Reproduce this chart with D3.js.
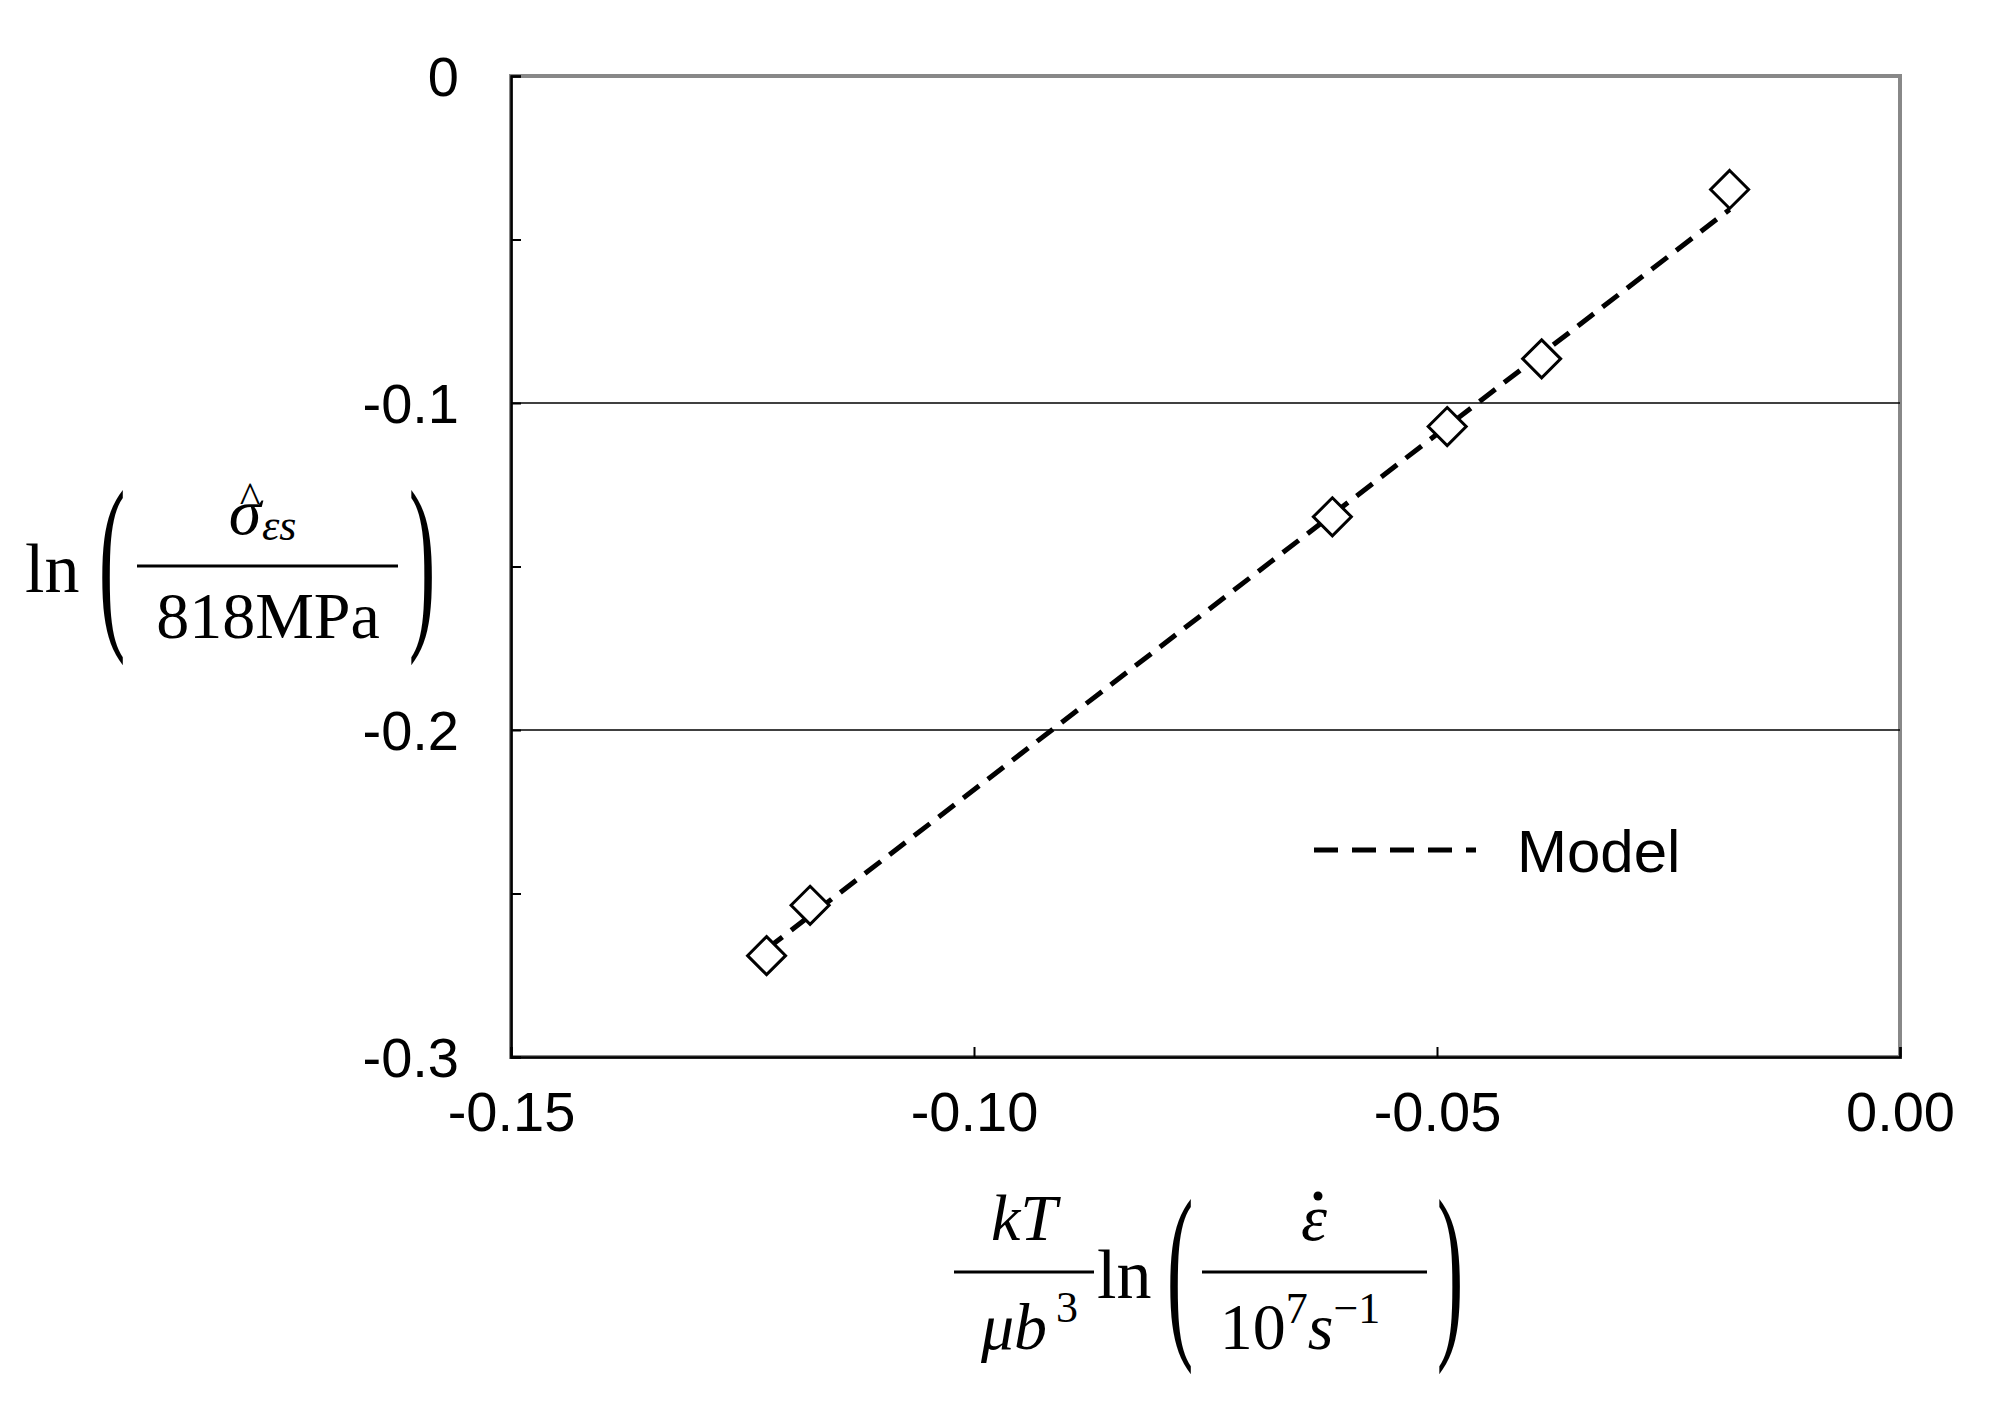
<!DOCTYPE html>
<html><head><meta charset="utf-8">
<script src="https://cdn.jsdelivr.net/npm/d3@7"></script>
<style>body{margin:0;background:#fff}text{fill:#000}</style>
</head><body>
<script>
// measured points
var xData = [-0.1224, -0.1177, -0.0613, -0.0489, -0.0387, -0.0184];
var yData = [-0.269, -0.2536, -0.1348, -0.1072, -0.0865, -0.0347];
// model line end points
var modelX = [-0.1224, -0.0184];
var modelY = [-0.267, -0.0408];
var xTicks = [-0.15, -0.10, -0.05, 0.00];
var yTicks = [0, -0.1, -0.2, -0.3];
var yMinor = [-0.05, -0.15, -0.25];
var gridY = [-0.1, -0.2];

var W = 1995, H = 1414;
var m = {left:511, right:1900, top:76, bottom:1057};
var svg = d3.select("body").append("svg").attr("width",W).attr("height",H);
var x = d3.scaleLinear().domain([-0.15,0]).range([m.left,m.right]);
var y = d3.scaleLinear().domain([-0.3,0]).range([m.bottom,m.top]);
var font = "'Liberation Sans', Arial, sans-serif";

// frame
svg.append("rect").attr("x",m.left).attr("y",m.top).attr("width",m.right-m.left).attr("height",m.bottom-m.top)
  .attr("fill","none").attr("stroke","#888").attr("stroke-width",4);
svg.selectAll(".grid").data(gridY).enter().append("line")
  .attr("x1",m.left).attr("x2",m.right).attr("y1",d=>y(d)).attr("y2",d=>y(d))
  .attr("stroke","#000").attr("stroke-width",1.5);

var xAxis = svg.append("g").attr("transform","translate(0,"+m.bottom+")")
  .call(d3.axisBottom(x).tickValues(xTicks).tickSize(-10).tickPadding(24)
    .tickFormat(d => d3.format(".2f")(d).replace("−","-")));
var yAxis = svg.append("g").attr("transform","translate("+m.left+",0)")
  .call(d3.axisLeft(y).tickValues(yTicks.concat(yMinor)).tickSize(-10).tickPadding(52)
    .tickFormat(d => yMinor.indexOf(d) >= 0 ? "" : (d === 0 ? "0" : d3.format(".1f")(d).replace("−","-"))));
[xAxis, yAxis].forEach(function(g){
  g.select(".domain").attr("stroke","#000").attr("stroke-width",2.5);
  g.selectAll(".tick line").attr("stroke","#000").attr("stroke-width",2);
  g.selectAll("text").attr("font-family",font).attr("font-size",56).attr("fill","#000");
});
xAxis.selectAll("text").attr("dy","0.9em");
yAxis.selectAll("text").attr("dy","0.35em");

// model line
var line = d3.line().x(d=>x(d[0])).y(d=>y(d[1]));
svg.append("path").datum(d3.zip(modelX, modelY)).attr("d",line)
  .attr("fill","none").attr("stroke","#000").attr("stroke-width",5).attr("stroke-dasharray","20,11");

// markers
svg.selectAll(".pt").data(d3.zip(xData,yData)).enter().append("path")
  .attr("transform",d=>"translate("+x(d[0])+","+y(d[1])+")")
  .attr("d","M0,-19L19,0L0,19L-19,0Z").attr("fill","#fff").attr("stroke","#000").attr("stroke-width",3);

// legend
svg.append("line").attr("x1",1314).attr("x2",1476).attr("y1",850).attr("y2",850)
  .attr("stroke","#000").attr("stroke-width",5).attr("stroke-dasharray","24,14");
svg.append("text").attr("x",1517).attr("y",872).attr("font-family",font).attr("font-size",60).text("Model");

// math labels
var serif = "'Liberation Serif', 'DejaVu Serif', serif";
function t(xp, yp, s, size, italic, anchor){
  return svg.append("text").attr("x",xp).attr("y",yp).attr("font-family",serif).attr("font-size",size)
    .attr("font-style",italic?"italic":"normal").attr("text-anchor",anchor||"start").text(s);
}
function paren(xp, yc, s){
  svg.append("text").attr("transform","translate("+xp+","+yc+") scale(1,2.4)")
    .attr("font-family",serif).attr("font-size",80).attr("dy","0.3em").attr("text-anchor","middle").text(s);
}
function bar(x1,x2,yy){
  svg.append("line").attr("x1",x1).attr("x2",x2).attr("y1",yy).attr("y2",yy).attr("stroke","#000").attr("stroke-width",3);
}
// y title
t(25,592,"ln",70,false);
paren(112,566,"(");
var num = t(245,534,"σ",66,true,"middle");
t(250,512,"^",44,false,"middle");
t(262,540,"εs",44,true,"start");
bar(137,398,566);
t(268,638,"818MPa",66,false,"middle");
paren(422,566,")");
// x title
t(1024,1240,"kT",66,true,"middle");
bar(954,1094,1272);
var mb = t(1014,1349,"μb",66,true,"middle");
t(1056,1322,"3",44,false,"start");
t(1097,1298,"ln",70,false);
paren(1180,1275,"(");
t(1314,1240,"ε",66,true,"middle");
svg.append("circle").attr("cx",1318).attr("cy",1196).attr("r",4.5).attr("fill","#000");
bar(1202,1427,1272);
var den = t(1300,1349,"10",66,false,"middle");
den.append("tspan").attr("font-size",44).attr("dy",-26).text("7");
den.append("tspan").attr("font-style","italic").attr("dy",26).text("s");
den.append("tspan").attr("font-size",44).attr("dy",-26).text("−1");
paren(1450,1275,")");
</script>
</body></html>
